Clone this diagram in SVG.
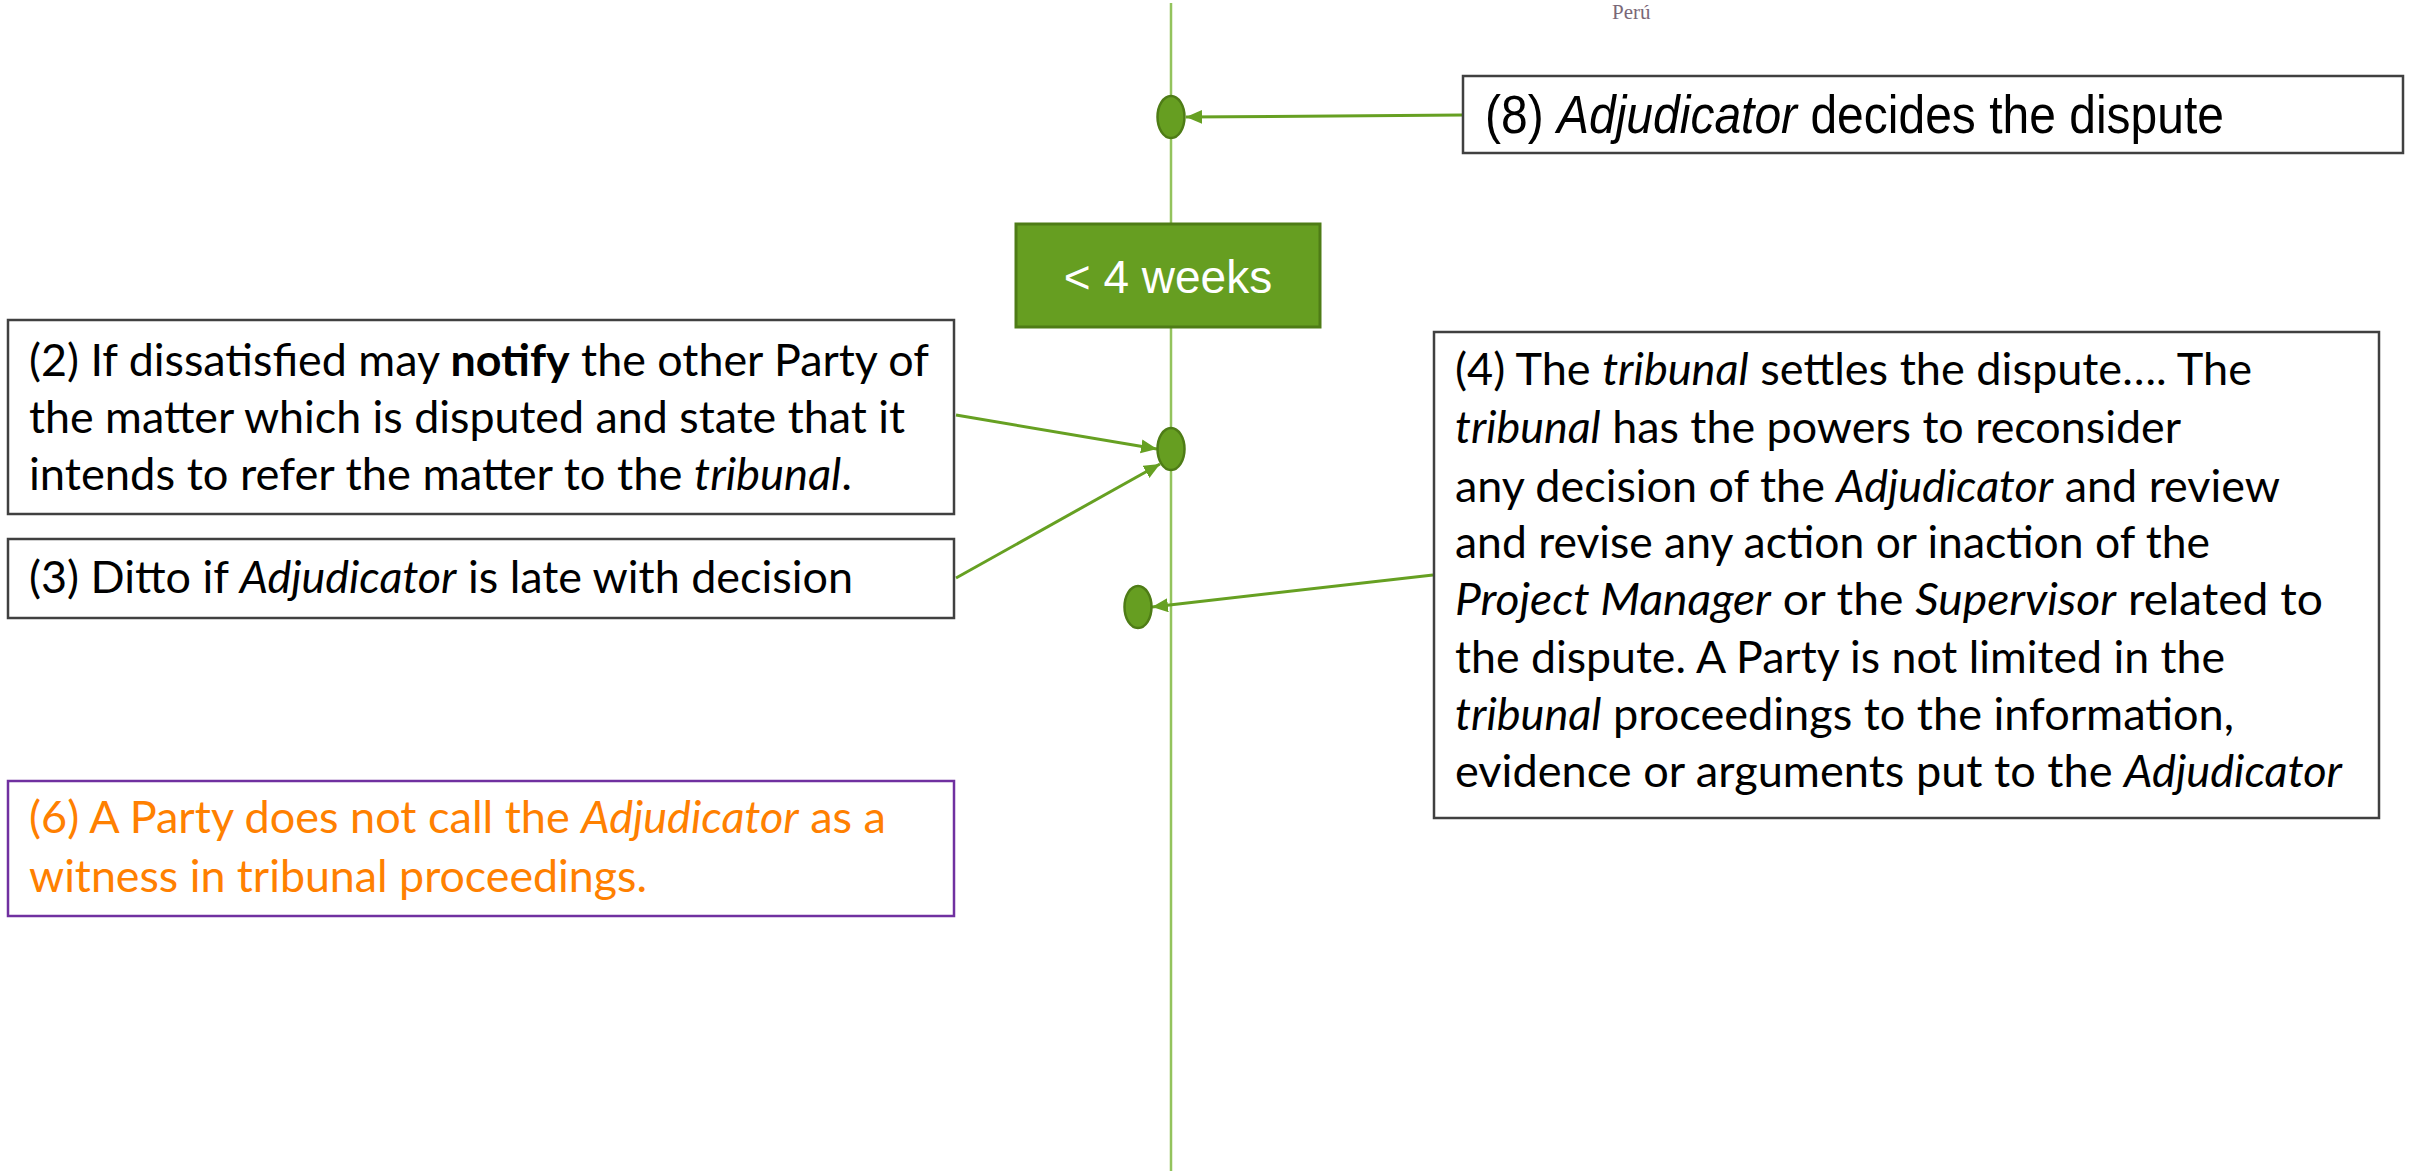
<svg xmlns="http://www.w3.org/2000/svg" width="2410" height="1171" viewBox="0 0 2410 1171">
<style>
.box{fill:#ffffff;stroke:#404040;stroke-width:2.5}
.cal{font-family:Lato,"Open Sans","DejaVu Sans",sans-serif;font-size:44px;fill:#000000}
.ari{font-family:"Liberation Sans",Arial,sans-serif}
.dot{fill:#669e21;stroke:#4e7c16;stroke-width:2.5}
.conn{fill:none;stroke:#66a022;stroke-width:3}
.org{fill:#ff8000}
</style>
<defs>
<marker id="ah" markerUnits="userSpaceOnUse" markerWidth="20" markerHeight="16" refX="16" refY="7" orient="auto">
<path d="M0,0 L16,7 L0,14 Z" fill="#66a022"/>
</marker>
</defs>
<g id="logo-remnant">
<text x="1612" y="19" style="font-family:'Liberation Serif',serif;font-size:21px;fill:#7a6878">Perú</text>
</g>
<g id="timeline">
<line x1="1171" y1="3" x2="1171" y2="1171" stroke="#93c35d" stroke-width="2.5"/>
</g>
<g id="connectors">
<line class="conn" x1="1463" y1="115" x2="1186" y2="117" marker-end="url(#ah)"/>
<line class="conn" x1="956" y1="415" x2="1157" y2="449" marker-end="url(#ah)"/>
<line class="conn" x1="956" y1="578" x2="1160" y2="464" marker-end="url(#ah)"/>
<line class="conn" x1="1433" y1="575" x2="1152" y2="607" marker-end="url(#ah)"/>
</g>
<g id="dot-top"><ellipse class="dot" cx="1171" cy="117" rx="13.5" ry="21"/></g>
<g id="dot-mid"><ellipse class="dot" cx="1171" cy="449" rx="13.5" ry="21"/></g>
<g id="dot-low"><ellipse class="dot" cx="1138" cy="607" rx="13.5" ry="21"/></g>
<g id="weeks">
<rect x="1016" y="224" width="304" height="103" fill="#669e21" stroke="#4e7c16" stroke-width="3"/>
<text class="ari" x="1168" y="293" text-anchor="middle" style="font-size:46px;fill:#ffffff">&lt; 4 weeks</text>
</g>
<g id="node8">
<rect class="box" x="1463" y="76" width="940" height="77"/>
<text class="ari" x="1485" y="133" transform="translate(0,133) scale(1,1.12) translate(0,-133)" style="font-size:48px">(8) <tspan font-style="italic">Adjudicator</tspan> decides the dispute</text>
</g>
<g id="node2">
<rect class="box" x="8" y="320" width="946" height="194"/>
<text class="cal" x="29" y="376" textLength="900" lengthAdjust="spacingAndGlyphs">(2) If dissatisfied may <tspan font-weight="bold">notify</tspan> the other Party of</text>
<text class="cal" x="29" y="433" textLength="876" lengthAdjust="spacingAndGlyphs">the matter which is disputed and state that it</text>
<text class="cal" x="29" y="490" textLength="823" lengthAdjust="spacingAndGlyphs">intends to refer the matter to the <tspan font-style="italic">tribunal</tspan>.</text>
</g>
<g id="node3">
<rect class="box" x="8" y="539" width="946" height="79"/>
<text class="cal" x="29" y="593" textLength="824" lengthAdjust="spacingAndGlyphs">(3) Ditto if <tspan font-style="italic">Adjudicator</tspan> is late with decision</text>
</g>
<g id="node6">
<rect x="8" y="781" width="946" height="135" fill="#ffffff" stroke="#7030a0" stroke-width="2.5"/>
<text class="cal org" x="29" y="833" textLength="857" lengthAdjust="spacingAndGlyphs">(6) A Party does not call the <tspan font-style="italic">Adjudicator</tspan> as a</text>
<text class="cal org" x="29" y="892" textLength="618" lengthAdjust="spacingAndGlyphs">witness in tribunal proceedings.</text>
</g>
<g id="node4">
<rect class="box" x="1434" y="332" width="945" height="486"/>
<text class="cal" x="1455" y="385" textLength="797" lengthAdjust="spacingAndGlyphs">(4) The <tspan font-style="italic">tribunal</tspan> settles the dispute…. The</text>
<text class="cal" x="1455" y="443" textLength="726" lengthAdjust="spacingAndGlyphs"><tspan font-style="italic">tribunal</tspan> has the powers to reconsider</text>
<text class="cal" x="1455" y="502" textLength="825" lengthAdjust="spacingAndGlyphs">any decision of the <tspan font-style="italic">Adjudicator</tspan> and review</text>
<text class="cal" x="1455" y="558" textLength="755" lengthAdjust="spacingAndGlyphs">and revise any action or inaction of the</text>
<text class="cal" x="1455" y="615" textLength="868" lengthAdjust="spacingAndGlyphs"><tspan font-style="italic">Project Manager</tspan> or the <tspan font-style="italic">Supervisor</tspan> related to</text>
<text class="cal" x="1455" y="673" textLength="770" lengthAdjust="spacingAndGlyphs">the dispute. A Party is not limited in the</text>
<text class="cal" x="1455" y="730" textLength="779" lengthAdjust="spacingAndGlyphs"><tspan font-style="italic">tribunal</tspan> proceedings to the information,</text>
<text class="cal" x="1455" y="787" textLength="887" lengthAdjust="spacingAndGlyphs">evidence or arguments put to the <tspan font-style="italic">Adjudicator</tspan></text>
</g>
</svg>
